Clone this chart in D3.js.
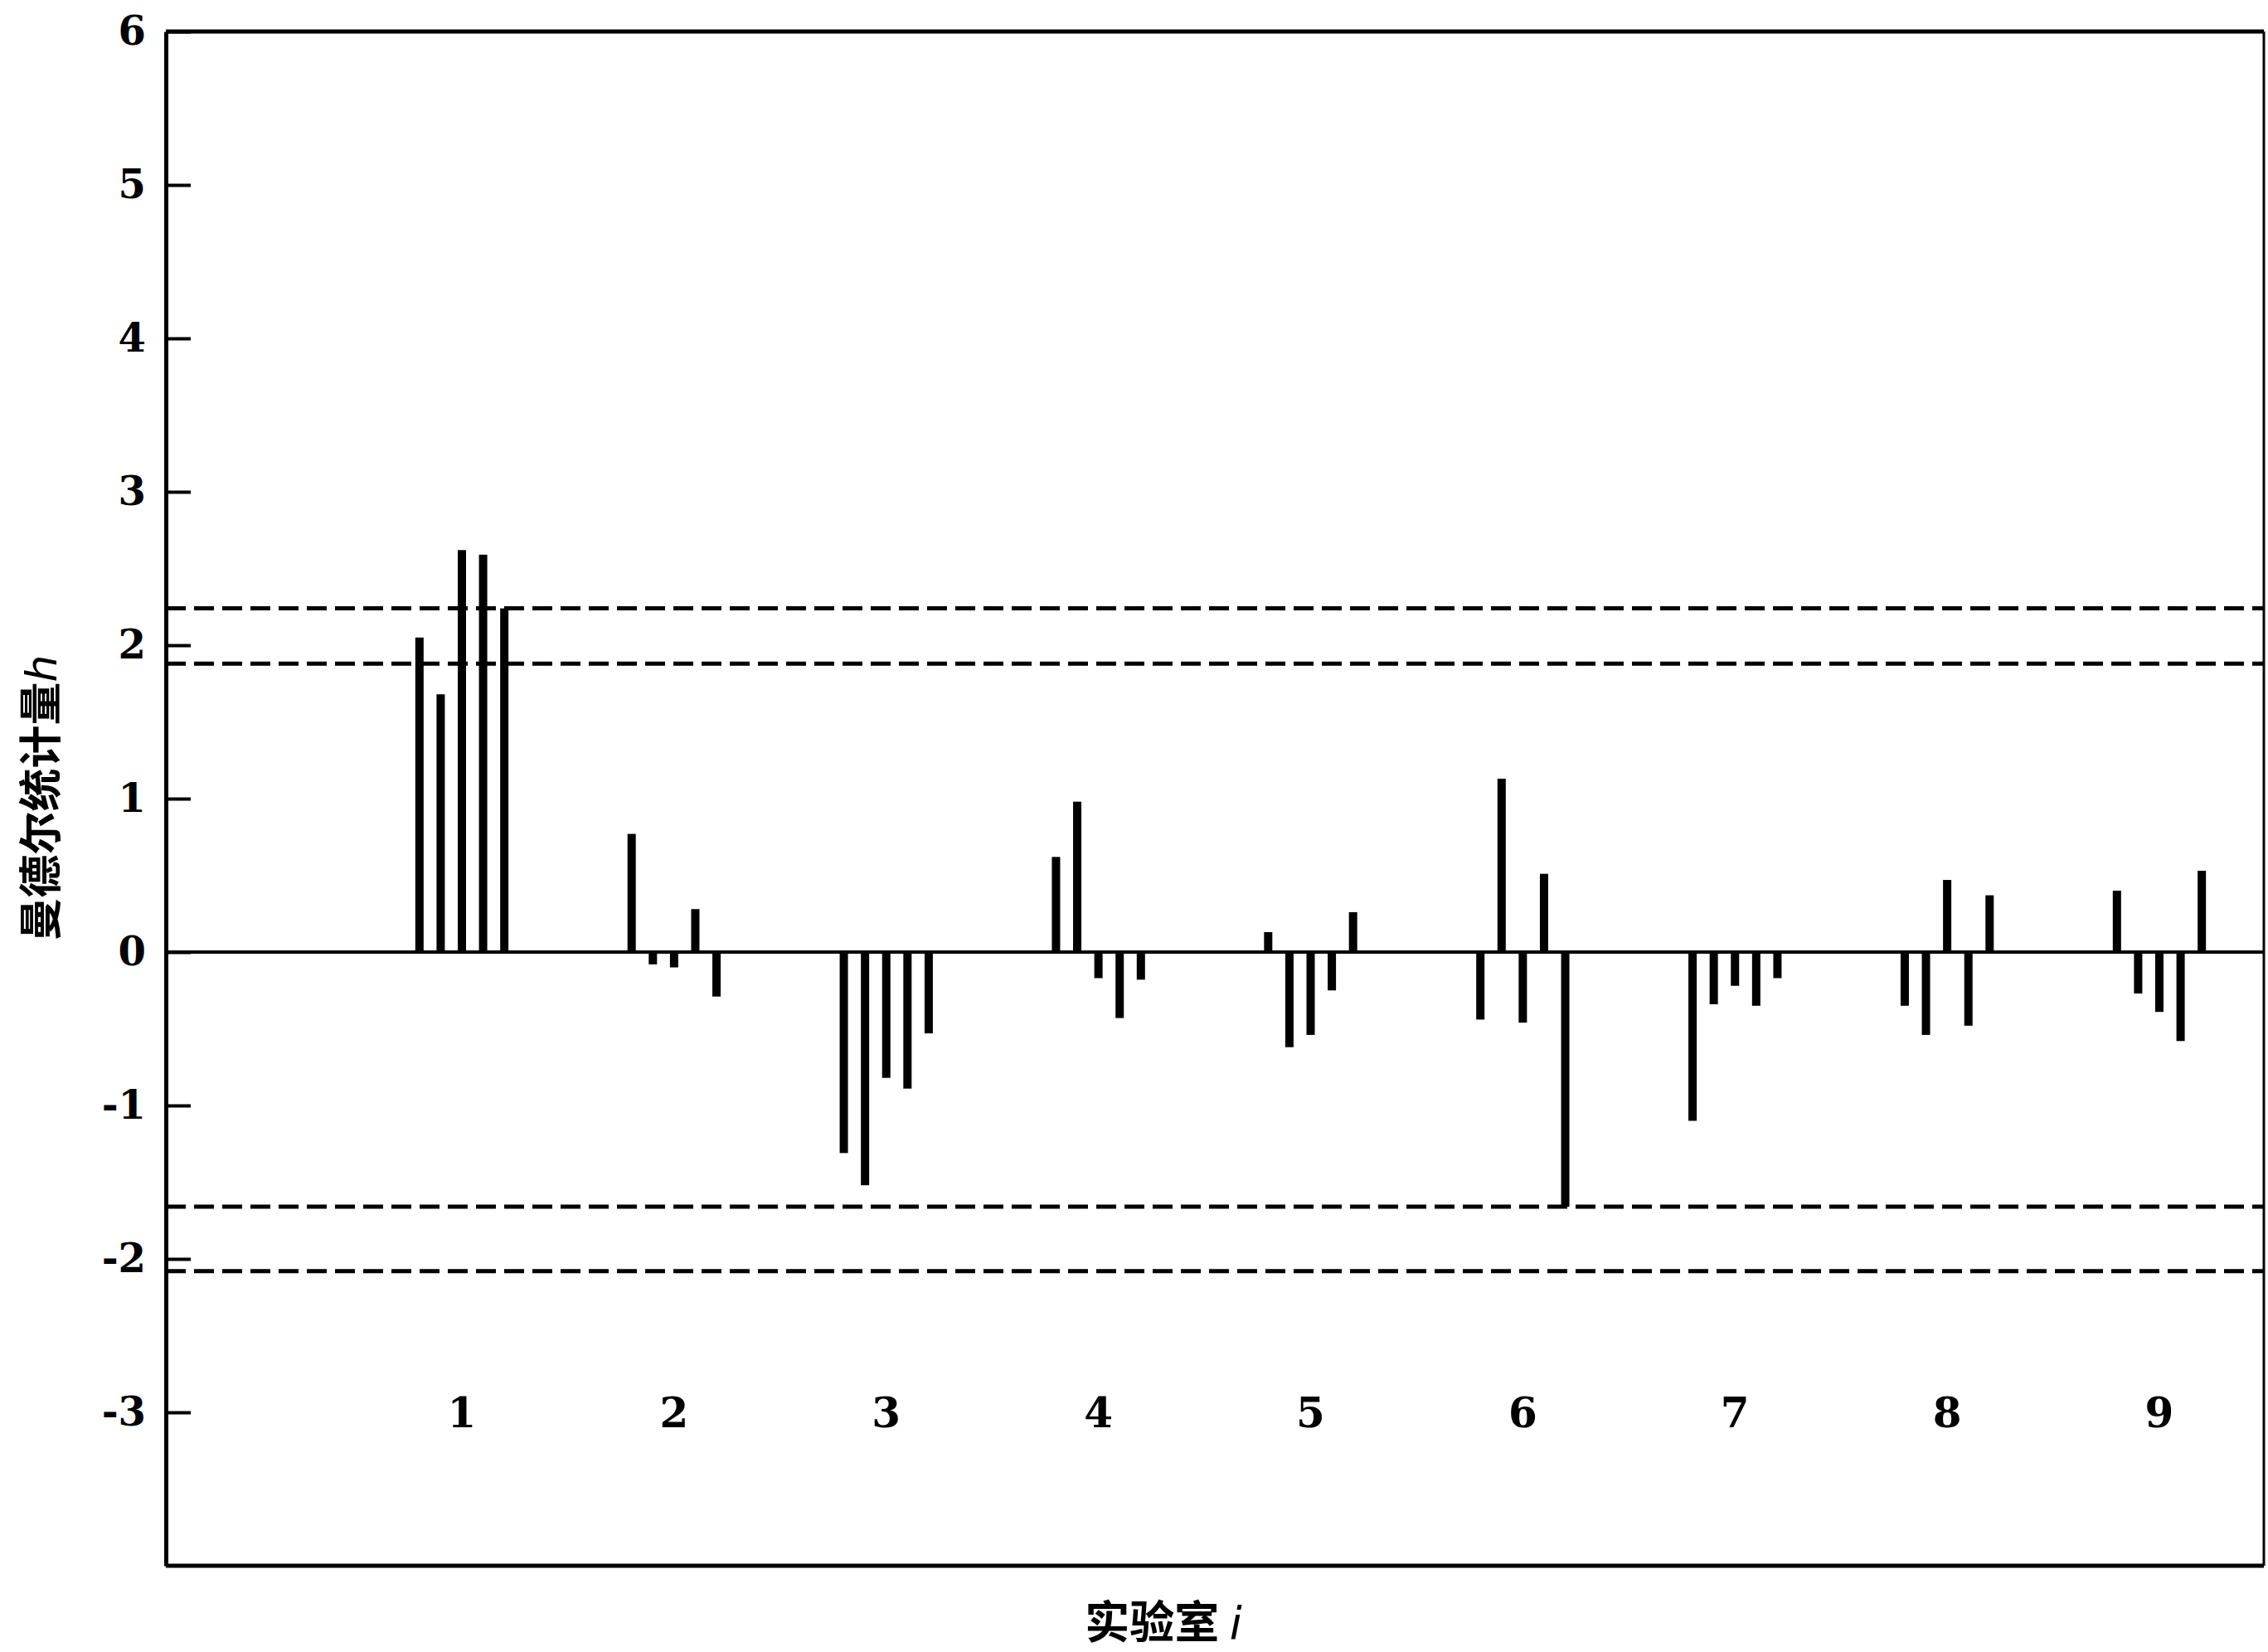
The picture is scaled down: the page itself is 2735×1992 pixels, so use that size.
<!DOCTYPE html>
<html>
<head>
<meta charset="utf-8">
<script src="https://cdn.jsdelivr.net/npm/d3@7"></script>
<style>
  html, body { margin: 0; padding: 0; background: #fff; }
  svg { display: block; }
</style>
</head>
<body>
<div id="chart"></div>
<script>
// laboratories and Mandel h values (5 levels each)
const labIds = [1, 2, 3, 4, 5, 6, 7, 8, 9];
const hValues = [
    [2.05, 1.68, 2.62, 2.59, 2.24],
    [0.77, -0.08, -0.10, 0.28, -0.29],
    [-1.31, -1.52, -0.82, -0.89, -0.53],
    [0.62, 0.98, -0.17, -0.43, -0.18],
    [0.13, -0.62, -0.54, -0.25, 0.26],
    [-0.44, 1.13, -0.46, 0.51, -1.66],
    [-1.10, -0.34, -0.22, -0.35, -0.17],
    [-0.35, -0.54, 0.47, -0.48, 0.37],
    [0.40, -0.27, -0.39, -0.58, 0.53]
];
const critLines = [2.24, 1.88, -1.66, -2.08];
const yTicks = [-3, -2, -1, 0, 1, 2, 3, 4, 5, 6];
const yLabel = '曼德尔统计量';
const xLabel = '实验室';

const width = 2735;
const height = 1992;
const frame = { left: 200, right: 2730, top: 38, bottom: 1888 };

const svg = d3.select('#chart').append('svg')
    .attr('width', width)
    .attr('height', height)
    .style('background', '#fff');

const x = d3.scaleLinear().domain([1, 9]).range([557, 2604]);
const y = d3.scaleLinear().domain([-4, 6]).range([frame.bottom, frame.top]);
const barStep = 0.1;   // offset between the 5 bars of one lab, in lab units
const barWidth = 10;

// frame: top and bottom heavy, right side thin
svg.append('line')
    .attr('x1', frame.left).attr('x2', frame.right)
    .attr('y1', frame.top).attr('y2', frame.top)
    .attr('stroke', '#000').attr('stroke-width', 5);
svg.append('line')
    .attr('x1', frame.left).attr('x2', frame.right)
    .attr('y1', frame.bottom).attr('y2', frame.bottom)
    .attr('stroke', '#000').attr('stroke-width', 5);
svg.append('line')
    .attr('x1', frame.right).attr('x2', frame.right)
    .attr('y1', frame.top).attr('y2', frame.bottom)
    .attr('stroke', '#000').attr('stroke-width', 3);

// critical value lines
svg.append('g').selectAll('line')
    .data(critLines)
    .join('line')
    .attr('x1', frame.left)
    .attr('x2', frame.right)
    .attr('y1', d => y(d))
    .attr('y2', d => y(d))
    .attr('stroke', '#000')
    .attr('stroke-width', 5)
    .attr('stroke-dasharray', '24 10');

// zero line
svg.append('line')
    .attr('x1', frame.left)
    .attr('x2', frame.right)
    .attr('y1', y(0))
    .attr('y2', y(0))
    .attr('stroke', '#000')
    .attr('stroke-width', 4);

// bars
const bars = [];
hValues.forEach((vals, i) => {
    vals.forEach((v, j) => {
        bars.push({ lab: labIds[i], pos: labIds[i] + (j - 2) * barStep, v: v });
    });
});

svg.append('g').selectAll('rect')
    .data(bars)
    .join('rect')
    .attr('x', d => x(d.pos) - barWidth / 2)
    .attr('y', d => y(Math.max(d.v, 0)))
    .attr('width', barWidth)
    .attr('height', d => Math.abs(y(d.v) - y(0)))
    .attr('fill', '#000');

// y axis
const yAxis = d3.axisLeft(y)
    .tickValues(yTicks)
    .tickFormat(d3.format('d'))
    .tickSizeInner(-30)
    .tickSizeOuter(0)
    .tickPadding(24);

const yG = svg.append('g')
    .attr('transform', `translate(${frame.left},0)`)
    .call(yAxis);

yG.select('.domain')
    .attr('stroke-width', 5);
yG.selectAll('.tick line')
    .attr('stroke-width', 4);
yG.selectAll('.tick text')
    .style('font-family', '"DejaVu Serif", serif')
    .style('font-weight', 'bold')
    .style('font-size', '48px')
    .attr('fill', '#000')
    .text(d => d < 0 ? '-' + Math.abs(d) : d);

// lab labels inside plot
svg.append('g').selectAll('text')
    .data(labIds)
    .join('text')
    .attr('x', d => x(d))
    .attr('y', y(-3))
    .attr('dy', '0.36em')
    .attr('text-anchor', 'middle')
    .style('font-family', '"DejaVu Serif", serif')
    .style('font-weight', 'bold')
    .style('font-size', '50px')
    .text(d => d);

// axis titles
const yTitle = svg.append('text')
    .attr('transform', `translate(68,962) rotate(-90)`)
    .attr('text-anchor', 'middle')
    .style('font-family', '"Noto Sans CJK SC", sans-serif')
    .style('font-weight', 'bold')
    .style('font-size', '52px');
yTitle.append('tspan').text(yLabel);
yTitle.append('tspan')
    .style('font-family', '"DejaVu Sans", sans-serif')
    .style('font-style', 'italic')
    .style('font-weight', 'normal')
    .text('h');

const xTitle = svg.append('text')
    .attr('x', 1403)
    .attr('y', 1976)
    .attr('text-anchor', 'middle')
    .style('font-family', '"Noto Sans CJK SC", sans-serif')
    .style('font-weight', 'bold')
    .style('font-size', '54px');
xTitle.append('tspan').text(xLabel + ' ');
xTitle.append('tspan')
    .style('font-family', '"DejaVu Sans", sans-serif')
    .style('font-style', 'italic')
    .style('font-weight', 'normal')
    .text('i');
</script>
</body>
</html>
